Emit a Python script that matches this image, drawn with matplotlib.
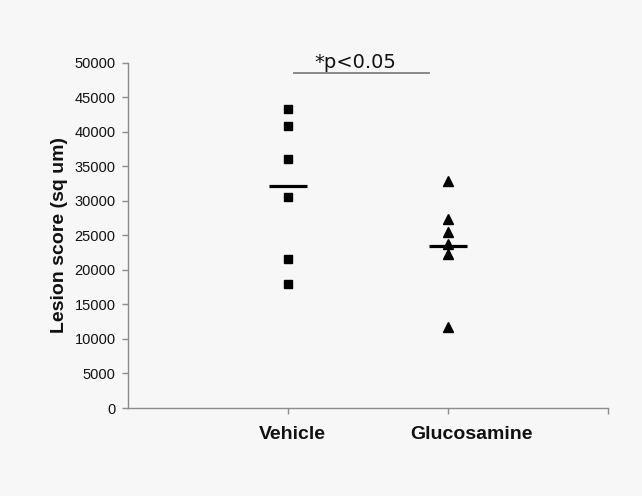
import matplotlib
matplotlib.use("Agg")
import matplotlib.pyplot as plt
import numpy as np

# Data
groups = ["Vehicle", "Glucosamine"]
group_x = [1, 2]
vehicle_vals = [43300, 40800, 36100, 30600, 21600, 18000]
glucosamine_vals = [32800, 27300, 25500, 23800, 22300, 11700]
group_means = [32200, 23500]
y_ticks = [0, 5000, 10000, 15000, 20000, 25000, 30000, 35000, 40000, 45000, 50000]
sig_text = "*p<0.05"

bg = "#f7f7f7"
axis_grey = "#8c8c8c"

fig = plt.figure(figsize=(6.42, 4.96), dpi=100, facecolor=bg)
ax = fig.add_axes([0.1994, 0.1774, 0.7477, 0.6962], facecolor=bg)

# Points
ax.plot([group_x[0]] * len(vehicle_vals), vehicle_vals, linestyle="none",
        marker="s", markersize=6.3, color="black")
ax.plot([group_x[1]] * len(glucosamine_vals), glucosamine_vals, linestyle="none",
        marker="^", markersize=7.6, color="black")

# Mean bars
for gx, m in zip(group_x, group_means):
    ax.plot([gx - 0.12, gx + 0.12], [m, m], color="black", lw=2.3,
            solid_capstyle="butt")

# Significance bracket
ax.plot([1.0375, 1.88], [48450, 48450], color="#7f7f7f", lw=1.3,
        clip_on=False)
ax.text(1.42, 49200, sig_text, ha="center", va="baseline",
        fontsize=14, family="DejaVu Sans", color="#111111")

ax.set_xlim(0, 3)
ax.set_ylim(0, 50000)
ax.set_yticks(y_ticks)
ax.set_yticklabels([str(t) for t in y_ticks], family="Liberation Sans",
                   fontsize=10.5, color="#111111")
ax.set_xticks([1, 2, 3])
ax.set_xticklabels([])

for gx, name, off in zip(group_x, groups, [0.025, 0.144]):
    ax.text(gx + off, -0.078, name, transform=ax.get_xaxis_transform(),
            ha="center", va="center", fontsize=14, fontweight="bold",
            family="Liberation Sans", color="#111111")

ax.set_ylabel("Lesion score (sq um)", fontsize=14, fontweight="bold",
              family="Liberation Sans", color="#111111")
ax.yaxis.set_label_coords(-0.125, 0.5)

for s in ["top", "right"]:
    ax.spines[s].set_visible(False)
for s in ["left", "bottom"]:
    ax.spines[s].set_color(axis_grey)
    ax.spines[s].set_linewidth(1.0)
ax.tick_params(axis="both", direction="out", length=4, width=1.0,
               color=axis_grey, pad=5)

fig.savefig("out.png", dpi=100, facecolor=bg)
